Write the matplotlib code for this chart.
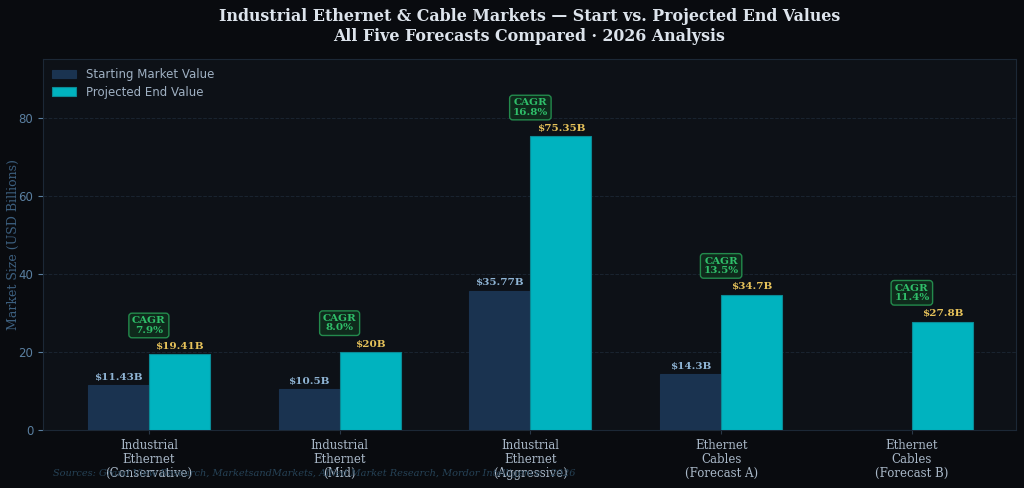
import matplotlib
matplotlib.use("Agg")
import matplotlib.pyplot as plt
import numpy as np

# data
categories = ["Industrial\nEthernet\n(Conservative)", "Industrial\nEthernet\n(Mid)",
              "Industrial\nEthernet\n(Aggressive)", "Ethernet\nCables\n(Forecast A)",
              "Ethernet\nCables\n(Forecast B)"]
start_values = [11.43, 10.5, 35.77, 14.3, 0.0]
end_values = [19.41, 20.0, 75.35, 34.7, 27.8]
start_labels = ["$11.43B", "$10.5B", "$35.77B", "$14.3B", ""]
end_labels = ["$19.41B", "$20B", "$75.35B", "$34.7B", "$27.8B"]
cagr = ["7.9%", "8.0%", "16.8%", "13.5%", "11.4%"]

BG = "#090b0f"
PANEL = "#0d1117"
START_C = "#1a3350"
END_C = "#00b3bf"
GRID = "#1a2430"

fig = plt.figure(figsize=(10.24, 4.88), dpi=100, facecolor=BG)
ax = fig.add_axes([0.042, 0.119, 0.95, 0.760], facecolor=PANEL)

x = np.arange(len(categories))
w = 0.32
ax.bar(x - w / 2, start_values, w, color=START_C, edgecolor=START_C,
       linewidth=0.8, label="Starting Market Value", zorder=3)
ax.bar(x + w / 2, end_values, w, color=END_C, edgecolor="#0a8a96",
       linewidth=0.8, label="Projected End Value", zorder=3)

for i in range(len(x)):
    if start_labels[i]:
        ax.text(x[i] - w / 2, start_values[i] + 0.9, start_labels[i], ha="center",
                va="bottom", family="DejaVu Serif", fontweight="bold",
                fontsize=7.5, color="#8fb4d4", zorder=5)
    ax.text(x[i] + w / 2, end_values[i] + 0.9, end_labels[i], ha="center",
            va="bottom", family="DejaVu Serif", fontweight="bold",
            fontsize=7.5, color="#e6c25a", zorder=5)
    ax.text(x[i], end_values[i] + 7.4, f"CAGR\n{cagr[i]}", ha="center",
            va="center", family="DejaVu Serif", fontweight="bold",
            fontsize=7.5, color="#2fbf6a", linespacing=1.05, zorder=6,
            bbox=dict(boxstyle="round,pad=0.3", facecolor="#0f2a1c",
                      edgecolor="#238a4c", linewidth=1.0))

ax.set_xlim(-0.555, 4.545)
ax.set_ylim(0, 95.2)
ax.set_yticks([0, 20, 40, 60, 80])
ax.set_xticks(x)
ax.set_xticklabels(categories, family="DejaVu Serif", fontsize=8.5,
                   color="#a9b8c8", linespacing=1.1)
ax.tick_params(axis="y", colors="#5a7fa0", labelcolor="#5a7fa0", labelsize=8.5)
ax.tick_params(axis="x", color="#2a3848", length=3)
ax.yaxis.grid(True, color=GRID, linestyle="--", linewidth=0.7, zorder=0)
ax.set_axisbelow(True)
for s in ax.spines.values():
    s.set_color("#1c2836")
ax.set_ylabel("Market Size (USD Billions)", family="DejaVu Serif",
              fontsize=9, color="#3d6080", labelpad=-1)

ax.set_title("Industrial Ethernet & Cable Markets — Start vs. Projected End Values\n"
             "All Five Forecasts Compared · 2026 Analysis",
             family="DejaVu Serif", fontweight="bold", fontsize=11.4,
             color="#dde4ec", pad=13, linespacing=1.2)

leg = ax.legend(loc="upper left", fontsize=8.5, frameon=True, facecolor=PANEL,
                edgecolor=PANEL, labelcolor="#9fb0c2", borderaxespad=0.4,
                labelspacing=0.35)

fig.text(0.052, 0.024, "Sources: Grand View Research, MarketsandMarkets, Allied Market "
         "Research, Mordor Intelligence · 2026", family="DejaVu Serif",
         style="italic", fontsize=7, color="#264256")

fig.savefig("out.png", dpi=100, facecolor=BG)
